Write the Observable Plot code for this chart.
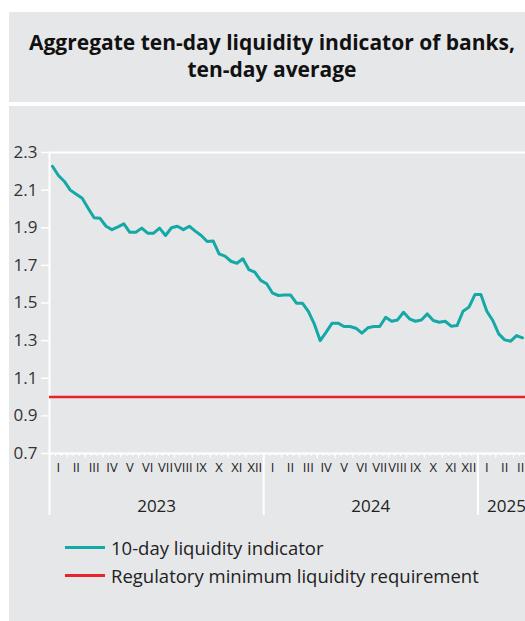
<!DOCTYPE html>
<html>
<head>
<meta charset="utf-8">
<script src="https://cdn.jsdelivr.net/npm/d3@7"></script>
<script src="https://cdn.jsdelivr.net/npm/@observablehq/plot@0.6"></script>
<style>
  html, body { margin: 0; padding: 0; background: #fff; width: 525px; height: 621px; overflow: hidden; }
  #title { position: absolute; left: 9px; top: 12px; width: 516px; height: 90px; background: #e6e7e9;
    font-family: "Open Sans", sans-serif; font-weight: 700; font-size: 21px; line-height: 27px; color: #111;
    text-align: center; box-sizing: border-box; padding-top: 17px; padding-left: 10px; white-space: nowrap; }
  #panel { position: absolute; left: 9px; top: 106px; width: 516px; height: 515px; background: #e6e7e9; overflow: hidden; }
  #chart { position: absolute; left: 0; top: 0; }
  #legend { position: absolute; left: 56px; top: 427px; font-family: "Open Sans", sans-serif; font-size: 18.5px; color: #222; }
  .item { display: flex; align-items: center; height: 28px; }
  .sw { width: 40px; height: 3px; margin-right: 6px; }
</style>
</head>
<body>
<div id="title">Aggregate ten-day liquidity indicator of banks,<br>ten-day average</div>
<div id="panel">
  <div id="chart"></div>
  <div id="legend"></div>
</div>
<script>
const seriesName = "10-day liquidity indicator";
const requirementName = "Regulatory minimum liquidity requirement";
const months = ["I","II","III","IV","V","VI","VII","VIII","IX","X","XI","XII"];
const years = ["2023","2024","2025"];
const yTicks = [0.7, 0.9, 1.1, 1.3, 1.5, 1.7, 1.9, 2.1, 2.3];
const requirement = [1.0];
// ten-day values, from the first ten days of January 2023
const values = [
  2.227, 2.178, 2.146, 2.100, 2.078, 2.057, 2.004, 1.953, 1.950, 1.908, 1.890, 1.905,
  1.921, 1.876, 1.876, 1.898, 1.871, 1.871, 1.898, 1.859, 1.900, 1.908, 1.890, 1.908,
  1.882, 1.859, 1.827, 1.830, 1.761, 1.749, 1.722, 1.711, 1.735, 1.678, 1.664, 1.620,
  1.602, 1.552, 1.540, 1.543, 1.543, 1.499, 1.499, 1.456, 1.389, 1.300, 1.345, 1.393,
  1.393, 1.375, 1.375, 1.366, 1.340, 1.368, 1.375, 1.375, 1.424, 1.403, 1.410, 1.451,
  1.416, 1.403, 1.410, 1.442, 1.407, 1.398, 1.403, 1.377, 1.380, 1.456, 1.478, 1.545,
  1.545, 1.456, 1.407, 1.336, 1.304, 1.297, 1.327, 1.315
];
const teal = "#14a8a6";
const red = "#e8232b";

const data = values.map((v, i) => ({x: i + 0.5, y: v}));
const nDekads = 80;
const dekadTicks = d3.range(0, nDekads + 1);
const monthTicks = d3.range(0, nDekads + 1, 3);
const yearTicks = d3.range(0, nDekads, 36);
const monthCenters = [];
years.forEach((yr, yi) => months.forEach((m, mi) => {
  const c = yi * 36 + mi * 3 + 1.5;
  if (c < nDekads) monthCenters.push(c);
}));
const monthLabel = c => months[Math.floor(c / 3) % 12];
const yearCenters = years.map((yr, yi) => (yi * 36 + Math.min(yi * 36 + 36, nDekads + 1.6)) / 2);
const yearLabel = c => years[Math.floor(c / 36)];

const chart = Plot.plot({
  width: 516,
  height: 420,
  marginLeft: 40,
  marginRight: 0,
  marginTop: 46,
  marginBottom: 73,
  style: {background: "transparent", fontFamily: "Open Sans, sans-serif", overflow: "visible"},
  x: {domain: [0, nDekads], axis: null},
  y: {domain: [0.7, 2.3], axis: null},
  marks: [
    Plot.ruleY([2.3], {stroke: "white", strokeWidth: 2}),
    Plot.ruleY([0.7], {stroke: "white", strokeWidth: 2}),
    Plot.ruleX([0], {y1: 0.7, y2: 2.3, stroke: "white", strokeWidth: 2}),
    Plot.axisY({ticks: yTicks, tickFormat: d3.format(".1f"), tickSize: 8, tickPadding: 4, label: null,
      stroke: "white", strokeWidth: 1.5, fill: "#333", fontSize: 17}),
    Plot.axisX({ticks: dekadTicks, tickSize: 3, label: null, fill: "none", stroke: "white", strokeWidth: 1}),
    Plot.axisX({ticks: monthTicks, tickSize: 5, label: null, fill: "none", stroke: "white", strokeWidth: 1}),
    Plot.axisX({ticks: yearTicks, tickSize: 62, label: null, fill: "none", stroke: "white", strokeWidth: 2}),
    Plot.axisX({ticks: monthCenters, tickSize: 0, tickPadding: 9, tickFormat: monthLabel, label: null,
      fill: "#222", fontSize: 13}),
    Plot.axisX({ticks: yearCenters, tickSize: 0, tickPadding: 46, tickFormat: yearLabel, label: null,
      fill: "#222", fontSize: 17}),
    Plot.ruleY(requirement, {stroke: red, strokeWidth: 2.5}),
    Plot.line(data, {x: "x", y: "y", stroke: teal, strokeWidth: 3, strokeLinejoin: "round"})
  ]
});
document.getElementById("chart").appendChild(chart);

const legend = document.getElementById("legend");
[[seriesName, teal], [requirementName, red]].forEach(([label, color]) => {
  const row = document.createElement("div");
  row.className = "item";
  const sw = document.createElement("div");
  sw.className = "sw";
  sw.style.background = color;
  const t = document.createElement("span");
  t.textContent = label;
  row.appendChild(sw);
  row.appendChild(t);
  legend.appendChild(row);
});
</script>
</body>
</html>
